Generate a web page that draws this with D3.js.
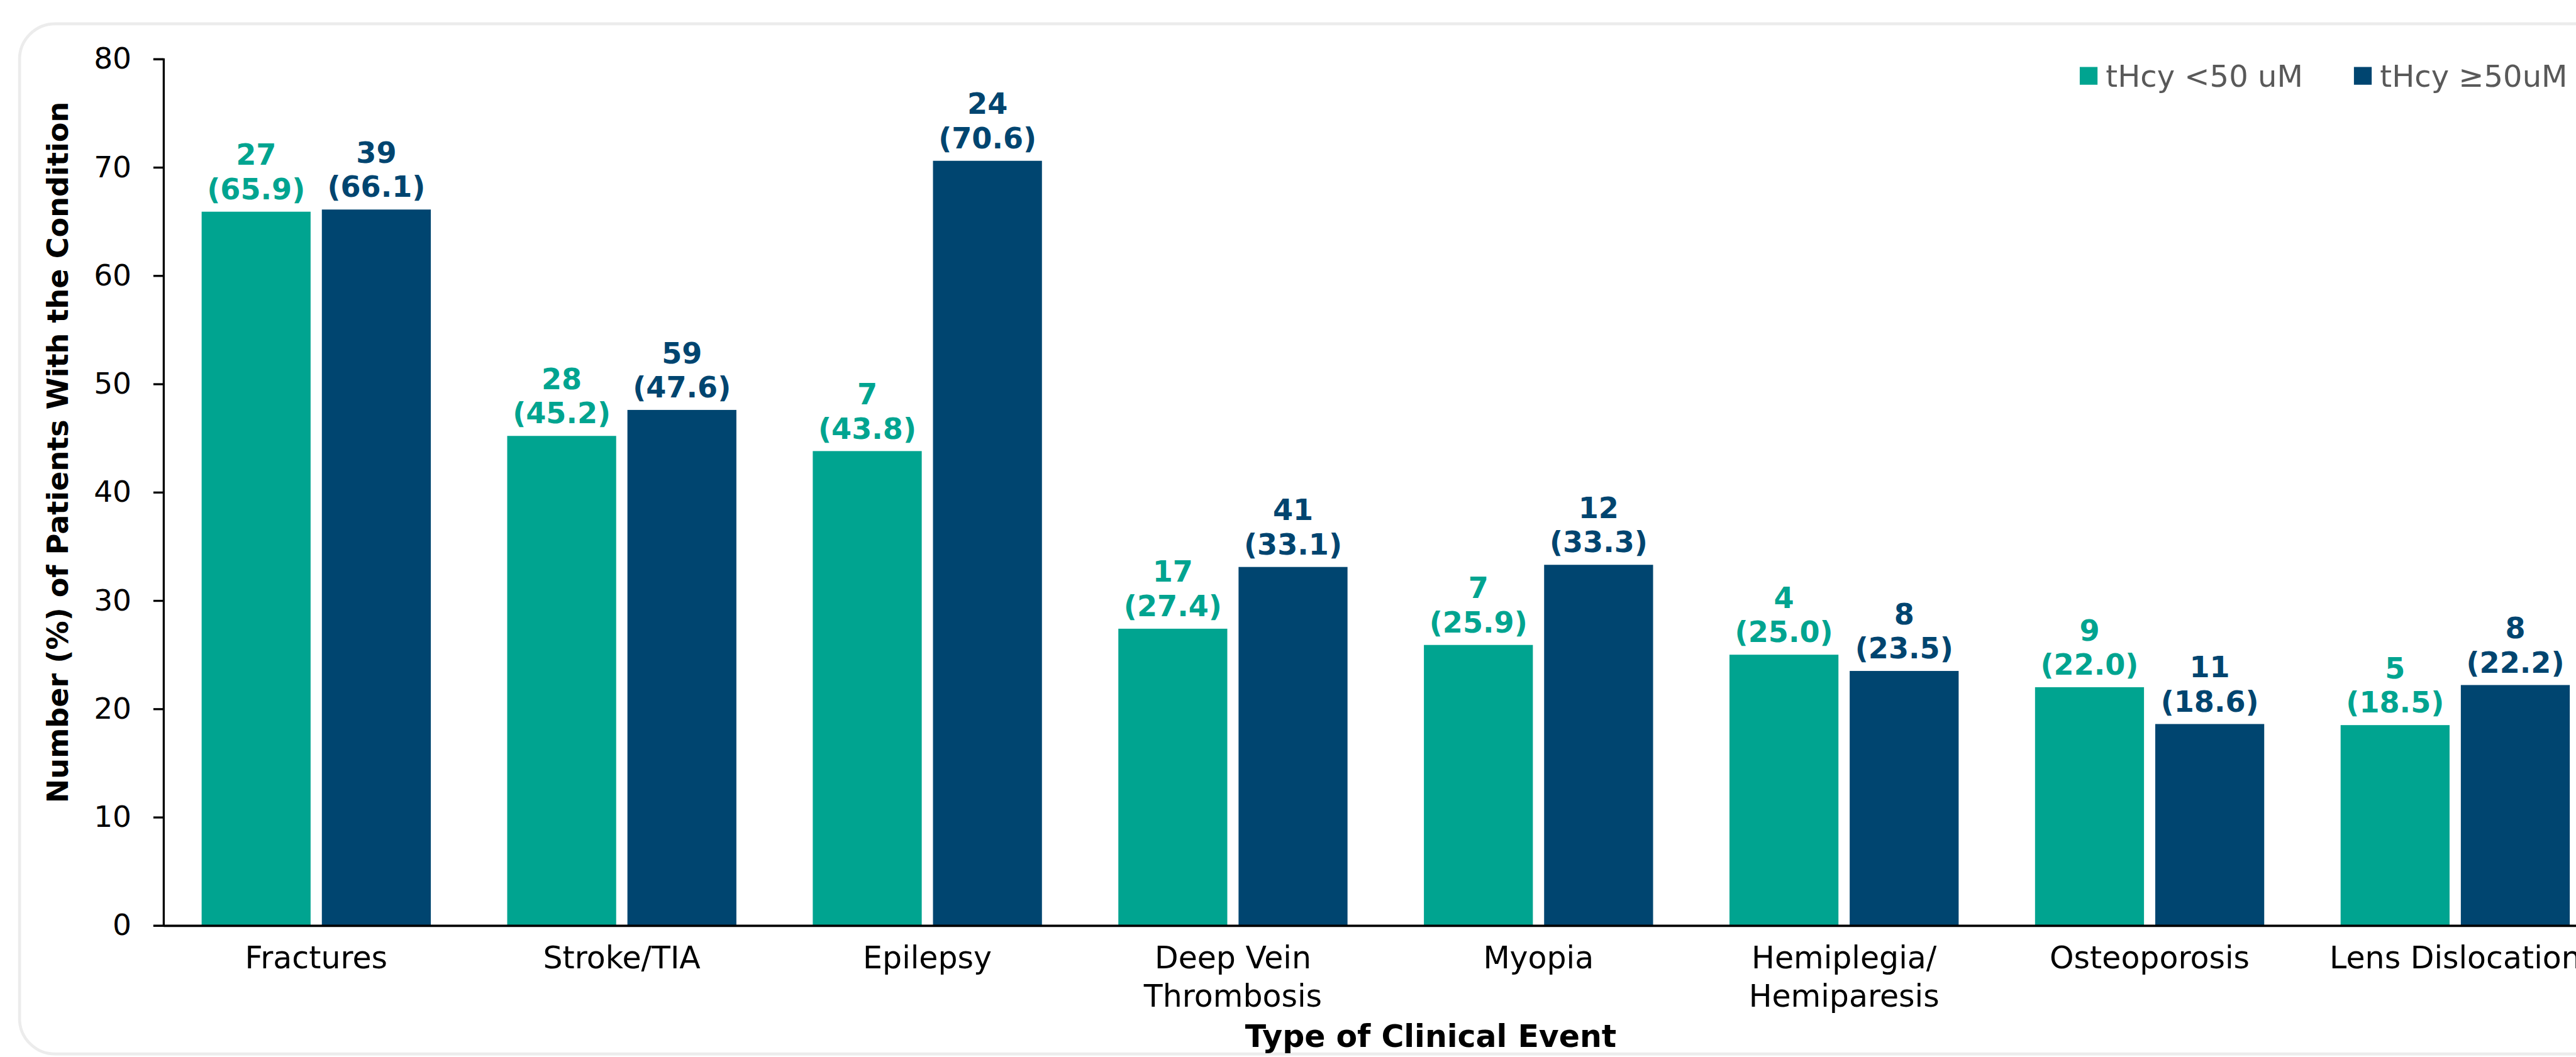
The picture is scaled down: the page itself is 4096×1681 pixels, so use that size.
<!DOCTYPE html>
<html>
<head>
<meta charset="utf-8">
<script src="https://cdn.jsdelivr.net/npm/d3@7/dist/d3.min.js"></script>
<style>
  html, body { margin: 0; padding: 0; background: #ffffff; overflow: hidden; }
  svg { display: block; }
</style>
</head>
<body>
<svg id="chart"></svg>
<script>
// Clinical events by total homocysteine (tHcy) level
const categories = ["Fractures", "Stroke/TIA", "Epilepsy", "Deep Vein Thrombosis", "Myopia",
  "Hemiplegia/ Hemiparesis", "Osteoporosis", "Lens Dislocation"];
const categoryLines = [["Fractures"], ["Stroke/TIA"], ["Epilepsy"], ["Deep Vein", "Thrombosis"],
  ["Myopia"], ["Hemiplegia/", "Hemiparesis"], ["Osteoporosis"], ["Lens Dislocation"]];
const seriesNames = ["tHcy <50 uM", "tHcy \u226550uM"];
const lowCounts = [27, 28, 7, 17, 7, 4, 9, 5];
const lowPercents = [65.9, 45.2, 43.8, 27.4, 25.9, 25.0, 22.0, 18.5];
const highCounts = [39, 59, 24, 41, 12, 8, 11, 8];
const highPercents = [66.1, 47.6, 70.6, 33.1, 33.3, 23.5, 18.6, 22.2];
const yTicks = [0, 10, 20, 30, 40, 50, 60, 70, 80];
const colors = ["#00a490", "#004570"];

// Design-space size; the SVG viewBox scales it to the window
const W = 4350, H = 1785;
const svg = d3.select("#chart")
  .attr("width", 4096).attr("height", 1681)
  .attr("viewBox", `0 0 ${W} ${H}`);

const FONT = "'DejaVu Sans', Verdana, sans-serif";

// Card background
svg.append("rect")
  .attr("x", 33).attr("y", 40)
  .attr("width", 4600).attr("height", 1740)
  .attr("rx", 60).attr("ry", 60)
  .attr("fill", "#ffffff")
  .attr("stroke", "#ececec").attr("stroke-width", 5);

const plotLeft = 276, step = 516, plotBottom = 1563, plotTop = 99.5;

const x = d3.scaleBand()
  .domain(categories)
  .range([plotLeft, plotLeft + step * categories.length])
  .paddingInner(0.25).paddingOuter(0.125);

const xs = d3.scaleBand()
  .domain([0, 1])
  .range([0, x.bandwidth()])
  .paddingInner(0.0936);

const y = d3.scaleLinear().domain([0, 80]).range([plotBottom, plotTop]);

const rows = categories.map((c, i) => ({
  cat: c,
  values: [
    { s: 0, pct: lowPercents[i], n: lowCounts[i] },
    { s: 1, pct: highPercents[i], n: highCounts[i] }
  ]
}));

// Bars
const groups = svg.append("g").selectAll("g").data(rows).join("g")
  .attr("transform", d => `translate(${x(d.cat)},0)`);

groups.selectAll("rect").data(d => d.values).join("rect")
  .attr("x", d => xs(d.s))
  .attr("width", xs.bandwidth())
  .attr("y", d => y(d.pct))
  .attr("height", d => y(0) - y(d.pct))
  .attr("fill", d => colors[d.s]);

// Value labels: count over (percent)
const lbl = groups.selectAll("g.lbl").data(d => d.values).join("g")
  .attr("class", "lbl")
  .attr("transform", d => `translate(${xs(d.s) + xs.bandwidth() / 2},${y(d.pct)})`);

lbl.append("text")
  .attr("y", -79)
  .attr("text-anchor", "middle")
  .attr("font-family", FONT).attr("font-weight", "bold").attr("font-size", 49)
  .attr("fill", d => colors[d.s])
  .text(d => d.n);

lbl.append("text")
  .attr("y", -21)
  .attr("text-anchor", "middle")
  .attr("font-family", FONT).attr("font-weight", "bold").attr("font-size", 49)
  .attr("fill", d => colors[d.s])
  .text(d => `(${d.pct.toFixed(1)})`);

// Y axis
const yAxis = svg.append("g")
  .attr("transform", `translate(${plotLeft},0)`)
  .call(d3.axisLeft(y).tickValues(yTicks).tickSize(17).tickSizeOuter(17).tickPadding(37));
yAxis.select(".domain").attr("stroke", "#000").attr("stroke-width", 3.5);
yAxis.selectAll(".tick line").attr("stroke", "#000").attr("stroke-width", 3.5);
yAxis.selectAll(".tick text")
  .attr("font-family", FONT).attr("font-size", 50).attr("fill", "#000");

// X axis baseline
const xAxis = svg.append("g")
  .attr("transform", `translate(0,${plotBottom})`)
  .call(d3.axisBottom(x).tickSize(0).tickSizeOuter(0).tickFormat(""));
xAxis.select(".domain").attr("stroke", "#000").attr("stroke-width", 4);

// Category labels
const catLabels = svg.append("g").selectAll("text").data(categories).join("text")
  .attr("text-anchor", "middle")
  .attr("font-family", FONT).attr("font-size", 52).attr("fill", "#000")
  .attr("transform", d => `translate(${x(d) + x.bandwidth() / 2},1635)`);
catLabels.selectAll("tspan").data((d, i) => categoryLines[i]).join("tspan")
  .attr("x", 0)
  .attr("y", (d, i) => i * 65)
  .text(d => d);

// Axis titles
svg.append("text")
  .attr("transform", "translate(115,764) rotate(-90)")
  .attr("text-anchor", "middle")
  .attr("font-family", FONT).attr("font-weight", "bold").attr("font-size", 49)
  .attr("fill", "#000")
  .text("Number (%) of Patients With the Condition");

svg.append("text")
  .attr("x", 2416).attr("y", 1768)
  .attr("text-anchor", "middle")
  .attr("font-family", FONT).attr("font-weight", "bold").attr("font-size", 52)
  .attr("fill", "#000")
  .text("Type of Clinical Event");

// Legend
const legendX = [3512, 3975];
const legend = svg.append("g").selectAll("g").data(seriesNames).join("g")
  .attr("transform", (d, i) => `translate(${legendX[i]},0)`);
legend.append("rect")
  .attr("x", 0).attr("y", 113).attr("width", 30).attr("height", 30)
  .attr("fill", (d, i) => colors[i]);
legend.append("text")
  .attr("x", 44).attr("y", 146)
  .attr("font-family", FONT).attr("font-size", 51).attr("fill", "#595959")
  .text(d => d);
</script>
</body>
</html>
